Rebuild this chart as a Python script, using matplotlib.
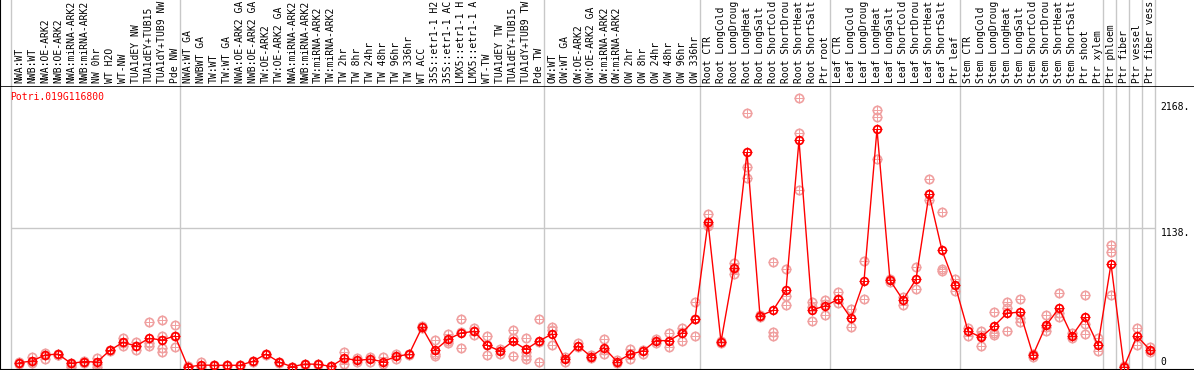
import numpy as np
import matplotlib
matplotlib.use("Agg")
import matplotlib.pyplot as plt

# sample labels (as shown, cut to 14 characters)
labels = [
    "NWA:WT", "NWB:WT", "NWA:OE-ARK2", "NWB:OE-ARK2", "NWA:miRNA-ARK2", "NWB:miRNA-ARK2",
    "NW 0hr", "WT H2O", "WT-NW", "TUA1dEY NW", "TUA1dEY+TUB15", "TUA1dY+TUB9 NW", "Pde NW",
    "NWA:WT GA", "NWBWT GA", "TW:WT", "TW:WT GA", "NWA:OE-ARK2 GA", "NWB:OE-ARK2 GA",
    "TW:OE-ARK2", "TW:OE-ARK2 GA", "NWA:miRNA-ARK2", "NWB:miRNA-ARK2", "TW:miRNA-ARK2",
    "TW:miRNA-ARK2", "TW 2hr", "TW 8hr", "TW 24hr", "TW 48hr", "TW 96hr", "TW 336hr",
    "WT ACC", "35S::etr1-1 H2", "35S::etr1-1 AC", "LMX5::etr1-1 H", "LMX5::etr1-1 A",
    "WT-TW", "TUA1dEY TW", "TUA1dEY+TUB15", "TUA1dY+TUB9 TW", "Pde TW",
    "OW:WT", "OW:WT GA", "OW:OE-ARK2", "OW:OE-ARK2 GA", "OW:miRNA-ARK2", "OW:miRNA-ARK2",
    "OW 2hr", "OW 8hr", "OW 24hr", "OW 48hr", "OW 96hr", "OW 336hr",
    "Root CTR", "Root LongCold", "Root LongDroug", "Root LongHeat", "Root LongSalt",
    "Root ShortCold", "Root ShortDrou", "Root ShortHeat", "Root ShortSalt", "Ptr root",
    "Leaf CTR", "Leaf LongCold", "Leaf LongDroug", "Leaf LongHeat", "Leaf LongSalt",
    "Leaf ShortCold", "Leaf ShortDrou", "Leaf ShortHeat", "Leaf ShortSalt", "Ptr leaf",
    "Stem CTR", "Stem LongCold", "Stem LongDroug", "Stem LongHeat", "Stem LongSalt",
    "Stem ShortCold", "Stem ShortDrou", "Stem ShortHeat", "Stem ShortSalt", "Ptr shoot",
    "Ptr xylem", "Ptr phloem", "Ptr fiber", "Ptr vessel", "Ptr fiber vess",
]

# group separators: index of last sample in each group
group_ends = [12, 40, 52, 62, 72, 83, 84, 85, 86, 87]

# mean expression per sample
means = [
    35, 49, 98, 106, 30, 44, 41, 137, 202, 172, 235, 221, 254,
    0, 16, 14, 14, 14, 47, 106, 41, 2, 25, 22, 5, 71, 55, 63, 44, 87, 104,
    325, 137, 227, 278, 292, 178, 131, 210, 145, 213,
    270, 63, 175, 85, 158, 44, 104, 131, 216, 216, 278, 390,
    1185, 207, 808, 1758, 418, 464, 628, 1857, 467, 500,
    554, 399, 704, 1947, 710, 549, 718, 1414, 956, 672,
    295, 243, 336, 440, 450, 98, 341, 481, 254, 407, 180,
    844, 0, 254, 139,
]

# replicate values per sample
reps = [
    [45, 25], [82, 30, 40], [112, 63, 100], [110, 100, 95], [35, 0, 20], [50, 35, 45],
    [76, 22, 0], [140, 130], [240, 175, 200], [207, 137, 170], [366, 172, 200],
    [385, 256, 153, 125], [344, 161, 255],
    [0, 5], [43, 10, 0], [14, 10], [14, 10], [14, 12], [47, 40], [106, 100], [41, 35],
    [2, 0], [25, 20], [22, 18], [5, 2], [123, 25, 65], [70, 40], [85, 45], [82, 25],
    [110, 65], [110, 100], [338, 320], [218, 110, 90], [268, 199, 215], [393, 153, 290],
    [322, 262, 292], [254, 98, 180], [150, 110], [300, 87, 240], [240, 68, 90, 125],
    [393, 41, 205],
    [330, 180, 300], [80, 45], [195, 160], [85, 70, 100], [229, 104, 140], [55, 30],
    [150, 63], [140, 105], [230, 200], [278, 166], [322, 216, 290], [530, 256, 390],
    [1250, 1155, 1170], [215, 200], [854, 759, 800], [2078, 1636, 1545], [425, 410],
    [857, 289, 254], [800, 584, 508], [2201, 1914, 1450], [530, 377, 490], [549, 426, 520],
    [617, 522, 560], [475, 325], [868, 554], [2105, 2045, 1701], [720, 700], [575, 508],
    [816, 636], [1540, 1368, 1420], [1267, 803, 790], [718, 622],
    [320, 256], [297, 172, 260], [450, 262, 280], [530, 295, 480], [554, 371, 400],
    [110, 85], [423, 295, 330], [603, 407, 440], [275, 235], [590, 352, 268], [235, 131],
    [999, 944, 590], [5, 0], [319, 183], [160, 120],
]

gene = "Potri.019G116800"
ytick_vals = [2168, 1138, 0]
ytick_text = ["2168.", "1138.", "0"]

W, H = 1194, 370
mono = "DejaVu Sans Mono"
fs = 7
red = "#ff0000"
pink = "#f0a0a0"
gray = "#c8c8c8"

fig = plt.figure(figsize=(W / 100, H / 100), dpi=100)

# plot area: pixel rows 86..369
ax = fig.add_axes([0, 1 / H, 1, 283 / H])
# label area: pixel rows 0..86
axl = fig.add_axes([0, 284 / H, 1, 86 / H])

x = np.arange(len(means))
xlim = (-19 / 13, (W - 19) / 13)
ylim = (-2 / 0.1221, 281 / 0.1221)
ax.set_xlim(xlim)
ax.set_ylim(ylim)
axl.set_xlim(xlim)
axl.set_ylim(0, 86)

seps = [-0.62] + [e + 0.38 for e in group_ends]
for s in seps:
    ax.axvline(s, color=gray, lw=1, zorder=0)
    axl.axvline(s, color=gray, lw=1, zorder=0)

ax.hlines(1138, seps[0], seps[-1], color=gray, lw=1, zorder=0)

# replicates
for i, r in enumerate(reps):
    ax.plot([i] * len(r), r, ls="none", marker="o", ms=6, mfc="none",
            mec=pink, mew=1.2, zorder=2)
    ax.plot([i] * len(r), r, ls="none", marker="+", ms=7, mec=pink,
            mew=0.7, zorder=2)

# means
ax.plot(x, means, color=red, lw=1, zorder=3)
ax.plot(x, means, ls="none", marker="o", ms=5.5, mfc="none", mec=red,
        mew=1.3, zorder=4)
ax.plot(x, means, ls="none", marker="+", ms=6.8, mec=red, mew=0.7, zorder=4)

for v, t in zip(ytick_vals, ytick_text):
    ax.text(87.8, max(v - 38, 41), t, family=mono, fontsize=fs,
            ha="left", va="center")

ax.text(-0.7, 2210, gene, color=red, family=mono, fontsize=fs,
        ha="left", va="center")

for i, lab in enumerate(labels):
    axl.text(i, 3, lab, rotation=90, family=mono, fontsize=fs,
             ha="center", va="bottom")

for a in (ax, axl):
    a.set_xticks([])
    a.set_yticks([])
    a.spines["right"].set_visible(False)
    a.spines["left"].set_color("black")
ax.spines["top"].set_linewidth(1.2)
axl.spines["top"].set_visible(False)
axl.spines["bottom"].set_visible(False)

fig.savefig("out.png", dpi=100)
